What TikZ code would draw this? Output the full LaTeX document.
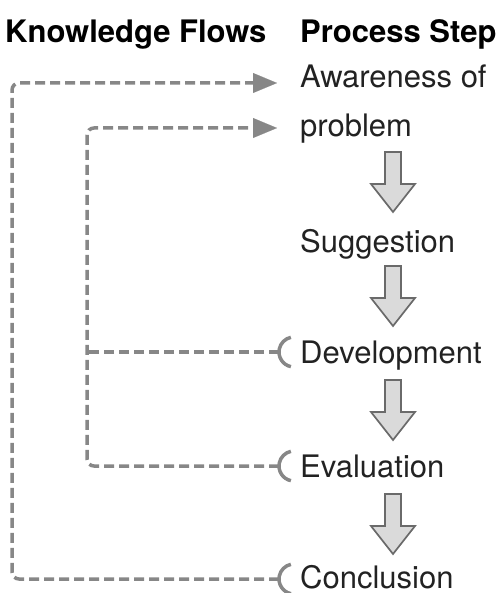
\documentclass[tikz,border=0pt]{standalone}
\usepackage{fontspec}
\setmainfont{TeX Gyre Heros}
\usetikzlibrary{arrows.meta}
\definecolor{flowgray}{HTML}{878787}
\definecolor{arrowfill}{HTML}{DADADA}
\definecolor{arrowline}{HTML}{6A6A6A}
\definecolor{txt}{HTML}{222222}
\tikzset{
  pics/downarrow/.style={code={
    \path[blockarrow] (-8,0) -- (8,0) -- (8,32) -- (22,32) -- (0,60)
      -- (-22,32) -- (-8,32) -- cycle;}}
}
\begin{document}
\begin{tikzpicture}[x=1pt,y=-1pt,
  title/.style={anchor=base west,inner sep=0pt,font=\fontsize{31}{31}\selectfont\bfseries,text=black},
  stepnode/.style={anchor=base west,inner sep=0pt,font=\fontsize{31}{31}\selectfont,text=txt},
  flow/.style={draw=flowgray,line width=3.5pt,dash pattern=on 10pt off 5pt,rounded corners=7pt},
  flowin/.style={flow,-{Triangle[length=24pt,width=20pt,line width=0.1pt,fill=flowgray]}},
  socket/.style={draw=flowgray,line width=3.5pt},
  blockarrow/.style={fill=arrowfill,draw=arrowline,line width=1.7pt,line join=miter}]
\useasboundingbox (0,0) rectangle (497,593);
% titles
\node[title] (kf) at (5,43) {Knowledge Flows};
\node[title] (ps) at (300,43) {Process Step};
% steps
\node[stepnode] (aw) at (300,88) {Awareness of};
\node[stepnode] (pr) at (300,137) {problem};
\node[stepnode] (su) at (300,252) {Suggestion};
\node[stepnode] (de) at (300,363) {Development};
\node[stepnode] (ev) at (300,477) {Evaluation};
\node[stepnode] (co) at (300,588) {Conclusion};
% block arrows between steps
\pic at (393,152) {downarrow};
\pic at (393,266) {downarrow};
\pic at (393,380) {downarrow};
\pic at (393,494) {downarrow};
% connector ends
\coordinate (inA) at (277,83);
\coordinate (inP) at (277,128);
\coordinate (outD) at (279,352);
\coordinate (outE) at (279,466);
\coordinate (outC) at (279,579);
% knowledge flows
\draw[flowin] (outC) -- ++(-267,0) |- (inA);
\draw[flowin] (outE) -- ++(-192,0) |- (inP);
\draw[flow] (outD) -- ++(-192,0);
\foreach \p in {outD,outE,outC}
  \draw[socket] (\p) ++(15,0) ++(102:15) arc[start angle=102,end angle=258,radius=15];
\end{tikzpicture}
\end{document}
